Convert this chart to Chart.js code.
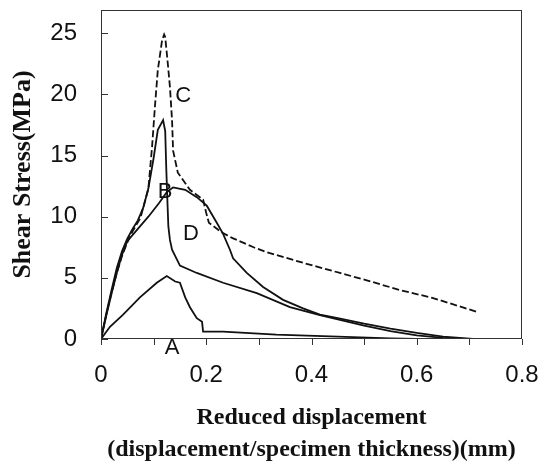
<!DOCTYPE html>
<html lang="en">
<head>
  <meta charset="UTF-8">
  <title>Shear stress vs reduced displacement</title>
  <script src="https://cdn.jsdelivr.net/npm/chart.js"></script>
  <style>
    html, body { margin: 0; padding: 0; background: #fff; }
    #wrap { width: 548px; height: 466px; }
  </style>
</head>
<body>
<div id="wrap"><canvas id="myChart" width="548" height="466"></canvas></div>

<script>
  // curve A (lowest)
  const aX = [0, 0.017, 0.042, 0.074, 0.106, 0.125, 0.141, 0.15, 0.16, 0.169, 0.182, 0.192, 0.194, 0.232, 0.333, 0.45, 0.55, 0.6];
  const aY = [0, 1.0, 2.0, 3.4, 4.6, 5.15, 4.7, 4.6, 3.4, 2.6, 1.7, 1.4, 0.6, 0.6, 0.35, 0.2, 0.05, 0];

  // curve B (broad hump)
  const bX = [0, 0.01, 0.02, 0.03, 0.04, 0.05, 0.07, 0.09, 0.11, 0.125, 0.137, 0.16, 0.182, 0.201, 0.22, 0.232, 0.245, 0.251, 0.277, 0.308, 0.346, 0.384, 0.416, 0.45, 0.5, 0.55, 0.6, 0.65, 0.707];
  const bY = [0, 1.9, 3.7, 5.4, 6.9, 8.0, 9.0, 10.0, 11.1, 12.0, 12.4, 12.2, 11.6, 10.9, 9.5, 8.6, 7.3, 6.6, 5.4, 4.25, 3.2, 2.5, 2.0, 1.7, 1.25, 0.85, 0.5, 0.2, 0];

  // curve C (dashed, highest peak)
  const cX = [0, 0.01, 0.02, 0.03, 0.04, 0.05, 0.06, 0.075, 0.09, 0.097, 0.103, 0.108, 0.116, 0.12, 0.122, 0.127, 0.131, 0.135, 0.137, 0.146, 0.169, 0.194, 0.2, 0.205, 0.23, 0.25, 0.29, 0.315, 0.378, 0.412, 0.454, 0.505, 0.568, 0.631, 0.716];
  const cY = [0, 2.0, 3.8, 5.4, 6.8, 7.9, 8.8, 9.9, 12.3, 15.7, 19.3, 22.0, 24.4, 24.9, 24.7, 22.5, 20.6, 17.9, 15.4, 13.6, 12.2, 11.4, 10.3, 9.5, 8.7, 8.25, 7.5, 7.1, 6.3, 5.9, 5.4, 4.8, 4.0, 3.35, 2.2];

  // curve D (peak 18 then sudden drop)
  const dX = [0, 0.01, 0.02, 0.03, 0.04, 0.05, 0.06, 0.07, 0.08, 0.09, 0.1, 0.108, 0.118, 0.122, 0.124, 0.126, 0.128, 0.131, 0.135, 0.15, 0.182, 0.232, 0.296, 0.359, 0.416, 0.45, 0.5, 0.55, 0.6, 0.65, 0.69];
  const dY = [0, 2.1, 4.0, 5.8, 7.2, 8.2, 9.0, 9.7, 10.7, 12.3, 14.8, 17.1, 17.9, 17.0, 14.0, 11.5, 9.2, 8.1, 7.3, 6.0, 5.4, 4.6, 3.75, 2.6, 1.96, 1.6, 1.1, 0.65, 0.3, 0.1, 0];

  // curve labels and where they sit (data units)
  const curveNames = ['A', 'B', 'C', 'D'];
  const labelX = [0.135, 0.122, 0.156, 0.171];
  const labelY = [-0.75, 12.0, 19.9, 8.6];

  const xMajor = [0, 0.1, 0.2, 0.3, 0.4, 0.5, 0.6, 0.7, 0.8];
  const yMajor = [0, 5, 10, 15, 20, 25];

  function pts(xs, ys) {
    return xs.map((x, i) => ({ x: x, y: ys[i] }));
  }

  function curve(xs, ys, dash) {
    return {
      data: pts(xs, ys),
      borderColor: '#111',
      borderWidth: 1.8,
      borderDash: dash,
      pointRadius: 0,
      tension: 0,
      fill: false
    };
  }

  // frame, tick marks and curve letters
  const extras = {
    id: 'extras',
    afterDraw(chart) {
      const ctx = chart.ctx;
      const area = chart.chartArea;
      const xs = chart.scales.x;
      const ys = chart.scales.y;
      ctx.save();
      ctx.strokeStyle = '#333';
      ctx.lineWidth = 1;
      ctx.strokeRect(area.left + 0.5, area.top + 0.5, area.right - area.left - 1, area.bottom - area.top - 1);

      ctx.beginPath();
      xMajor.forEach(v => {
        const px = Math.round(xs.getPixelForValue(v)) + 0.5;
        ctx.moveTo(px, area.bottom);
        ctx.lineTo(px, area.bottom + 6);
      });
      yMajor.forEach(v => {
        const py = Math.round(ys.getPixelForValue(v)) + 0.5;
        ctx.moveTo(area.left, py);
        ctx.lineTo(area.left + 7, py);
      });
      ctx.stroke();

      ctx.fillStyle = '#111';
      ctx.font = '22px "Liberation Sans", Arial, sans-serif';
      ctx.textAlign = 'center';
      ctx.textBaseline = 'middle';
      curveNames.forEach((n, i) => {
        ctx.fillText(n, xs.getPixelForValue(labelX[i]), ys.getPixelForValue(labelY[i]));
      });
      ctx.restore();
    }
  };

  const ctx = document.getElementById('myChart').getContext('2d');
  new Chart(ctx, {
    type: 'line',
    data: {
      datasets: [
        curve(aX, aY, []),
        curve(bX, bY, []),
        curve(cX, cY, [7, 3]),
        curve(dX, dY, [])
      ]
    },
    options: {
      responsive: false,
      animation: false,
      layout: { padding: { top: 10, right: 26, left: 0, bottom: 0 } },
      plugins: {
        legend: { display: false },
        tooltip: { enabled: false }
      },
      scales: {
        x: {
          type: 'linear',
          min: 0,
          max: 0.8,
          grid: { display: false, drawTicks: false },
          border: { display: false },
          ticks: {
            stepSize: 0.2,
            padding: 22,
            color: '#111',
            font: { family: '"Liberation Sans", Arial, sans-serif', size: 24 },
            callback: v => (Math.round(v * 10) / 10).toString()
          },
          title: {
            display: true,
            text: ['Reduced displacement', '(displacement/specimen thickness)(mm)'],
            color: '#111',
            font: { family: '"Liberation Serif", "Times New Roman", serif', size: 24, weight: 'bold', lineHeight: 1.333 },
            padding: { top: 0, bottom: 0 }
          },
          afterFit: s => { s.height = 127; s.paddingLeft = 0; s.paddingRight = 0; }
        },
        y: {
          min: 0,
          max: 26.9,
          grid: { display: false, drawTicks: false },
          border: { display: false },
          ticks: {
            stepSize: 5,
            includeBounds: false,
            padding: 24,
            color: '#111',
            font: { family: '"Liberation Sans", Arial, sans-serif', size: 24 }
          },
          title: {
            display: true,
            text: 'Shear Stress(MPa)',
            color: '#111',
            font: { family: '"Liberation Serif", "Times New Roman", serif', size: 26, weight: 'bold' },
            padding: { top: 8, bottom: 0 }
          },
          afterFit: s => { s.width = 101; s.paddingTop = 0; s.paddingBottom = 0; }
        }
      }
    },
    plugins: [extras]
  });
</script>
</body>
</html>
